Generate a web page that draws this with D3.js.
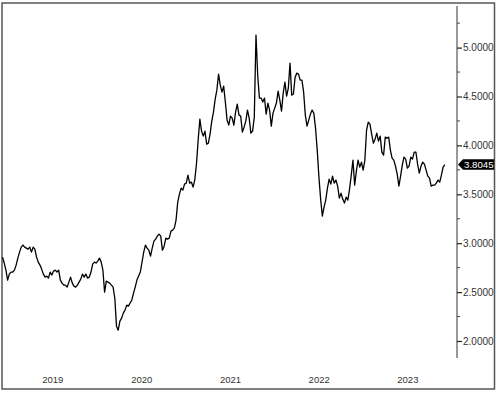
<!DOCTYPE html>
<html><head><meta charset="utf-8">
<script src="https://cdn.jsdelivr.net/npm/d3@7"></script>
<style>body{margin:0;background:#fff}svg{display:block}</style>
</head><body>
<script>
const startDate = "2018-12-07"; // first weekly observation
const values = [
2.858,2.797,2.725,2.623,2.684,2.705,2.705,2.725,2.776,2.848,
2.909,2.960,2.981,2.960,2.950,2.940,2.960,2.909,2.960,2.940,
2.858,2.807,2.776,2.735,2.684,2.653,2.664,2.643,2.705,2.674,
2.715,2.725,2.705,2.725,2.623,2.592,2.572,2.572,2.551,2.602,
2.653,2.592,2.561,2.551,2.572,2.602,2.633,2.684,2.653,2.684,
2.643,2.653,2.705,2.786,2.807,2.797,2.817,2.848,2.807,2.725,
2.500,2.612,2.602,2.592,2.572,2.551,2.439,2.152,2.111,2.203,
2.234,2.285,2.316,2.367,2.357,2.388,2.418,2.490,2.551,2.623,
2.664,2.705,2.807,2.909,2.981,2.950,2.929,2.868,2.950,3.021,
3.042,3.073,3.093,3.073,2.929,2.970,3.052,3.042,3.052,3.124,
3.134,3.154,3.236,3.420,3.502,3.563,3.543,3.604,3.614,3.696,
3.614,3.625,3.574,3.645,3.809,4.054,4.269,4.146,4.095,4.146,
4.013,4.023,4.116,4.248,4.340,4.473,4.565,4.729,4.617,4.545,
4.606,4.443,4.259,4.208,4.300,4.279,4.208,4.340,4.422,4.310,
4.300,4.136,4.187,4.248,4.361,4.279,4.126,4.146,4.289,5.128,
4.719,4.484,4.484,4.443,4.484,4.320,4.433,4.361,4.197,4.330,
4.381,4.433,4.555,4.463,4.351,4.535,4.647,4.504,4.586,4.841,
4.514,4.525,4.698,4.739,4.729,4.668,4.668,4.545,4.310,4.197,
4.259,4.320,4.361,4.330,4.177,3.952,3.676,3.451,3.277,3.369,
3.441,3.563,3.655,3.604,3.686,3.614,3.645,3.584,3.461,3.512,
3.451,3.410,3.471,3.441,3.553,3.696,3.850,3.594,3.737,3.850,
3.778,3.829,3.747,3.850,4.157,4.238,4.218,4.116,4.023,4.064,
4.126,4.044,4.095,3.931,3.901,4.085,4.075,4.085,3.952,3.870,
3.850,3.788,3.706,3.584,3.686,3.799,3.880,3.860,3.768,3.788,
3.880,3.860,3.931,3.931,3.809,3.717,3.788,3.829,3.809,3.747,
3.686,3.666,3.584,3.594,3.594,3.614,3.645,3.625,3.696,3.778,
3.8045
];
const yearLabels = ["2019","2020","2021","2022","2023"];
const yTicks = [2.0, 2.5, 3.0, 3.5, 4.0, 4.5, 5.0];
const yMinorTicks = [2.25, 2.75, 3.25, 3.75, 4.25, 4.75, 5.25];
const lastValue = 3.8045;

const W = 500, H = 395;
const svg = d3.select("body").append("svg").attr("width", W).attr("height", H);

const t0 = d3.timeParse("%Y-%m-%d")(startDate);
const dates = values.map((v, i) => d3.timeWeek.offset(t0, i));
const data = values.map((v, i) => ({ date: dates[i], value: v }));

const x = d3.scaleTime()
  .domain([new Date(2019, 0, 1), new Date(2024, 0, 1)])
  .range([8.6, 452.35]);
const y = d3.scaleLinear().domain([2.0, 5.0]).range([341, 47.6]);

// outer frame
svg.append("rect").attr("x", 2).attr("y", 3).attr("width", 492.5).attr("height", 386)
  .attr("fill", "none").attr("stroke", "#555").attr("stroke-width", 1.5);

// line
const line = d3.line().x(d => x(d.date)).y(d => y(d.value));
svg.append("path").datum(data).attr("d", line)
  .attr("fill", "none").attr("stroke", "#000").attr("stroke-width", 1.3)
  .attr("stroke-linejoin", "round");

// right axis
const axisX = 457;
svg.append("line").attr("x1", axisX).attr("x2", axisX).attr("y1", 6).attr("y2", 358)
  .attr("stroke", "#333").attr("stroke-width", 1);
const axisG = svg.append("g").attr("transform", `translate(${axisX},0)`)
  .call(d3.axisRight(y).tickValues(yTicks).tickSize(5).tickPadding(1).tickFormat(d3.format(".4f")));
axisG.select(".domain").remove();
axisG.selectAll(".tick line").attr("stroke", "#222").attr("stroke-width", 1.2);
axisG.selectAll(".tick text").attr("fill", "#333").attr("font-family", "Liberation Sans, Arial, sans-serif")
  .attr("font-size", 10);
svg.append("g").selectAll("line").data(yMinorTicks).join("line")
  .attr("x1", axisX).attr("x2", axisX + 3).attr("y1", d => y(d)).attr("y2", d => y(d))
  .attr("stroke", "#444").attr("stroke-width", 1);

// year labels
svg.append("g").selectAll("text").data(yearLabels).join("text")
  .attr("x", d => x(new Date(+d, 6, 2)))
  .attr("y", 383)
  .attr("text-anchor", "middle")
  .attr("fill", "#333")
  .attr("font-family", "Liberation Sans, Arial, sans-serif")
  .attr("font-size", 9.5)
  .text(d => d);

// last value tag
const ly = y(lastValue);
svg.append("path")
  .attr("d", `M${axisX + 1},${ly} L${axisX + 6},${ly - 5.3} L${494},${ly - 5.3} L${494},${ly + 5.3} L${axisX + 6},${ly + 5.3} Z`)
  .attr("fill", "#000");
svg.append("text").attr("x", axisX + 7).attr("y", ly + 3.5)
  .attr("fill", "#fff").attr("font-family", "Liberation Sans, Arial, sans-serif").attr("font-size", 9.7)
  .text(d3.format(".4f")(lastValue));
</script>
</body></html>
